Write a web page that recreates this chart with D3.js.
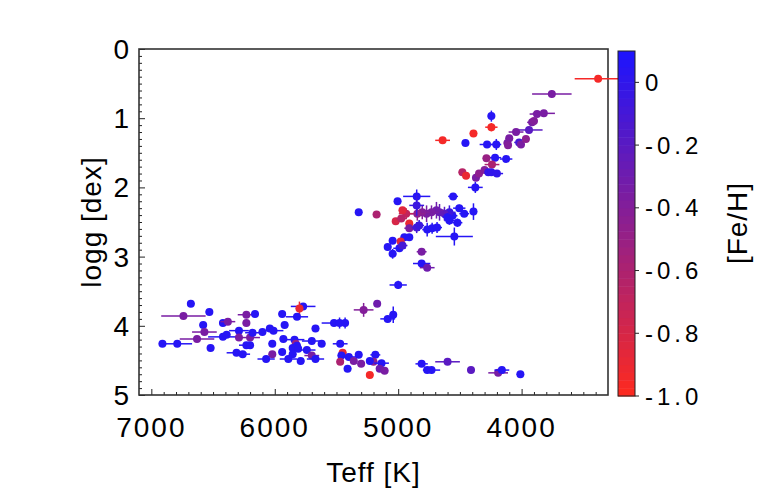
<!DOCTYPE html>
<html>
<head>
<meta charset="utf-8">
<script src="https://cdn.jsdelivr.net/npm/d3@7"></script>
<style>
    body { margin: 0; background: #fff; }
    text { font-family: "Liberation Sans", Arial, Helvetica, sans-serif; fill: #000; }
</style>
</head>
<body>
<svg id="chart" width="768" height="500"></svg>
<script>
// stellar parameters
let teff = [
    3380, 3755, 3875, 3820, 3915, 3900, 3940, 4045, 4100, 4115,
    4110, 4020, 4005, 3965, 4245, 4245, 4390, 4455, 4640, 4280,
    4205, 4215, 4285, 4125, 4240, 4480, 4450, 4370, 4345, 4300,
    4270, 4245, 4200, 4375, 4555, 4850, 5005, 5175, 5320, 4390,
    4505, 4465, 4560, 4585, 4625, 4665, 4690, 4730, 4770, 4805,
    4845, 4935, 4965, 5020, 4975, 4910, 4850, 4910, 4850, 4830,
    4765, 4725, 4685, 4585, 4520, 4600, 4545, 4950, 4910, 5045,
    5085, 4980, 4990, 4965, 5045, 4810, 4810, 4765, 5000, 5170,
    5085, 5040, 5185, 5200, 5135, 5150, 5110, 5230, 4810, 4765,
    4730, 4600, 4410, 4190, 4160, 4010, 5770, 5800, 5940, 5820,
    5920, 6100, 6040, 6010, 5670, 5520, 5475, 5430, 5280, 6020,
    5930, 5840, 5830, 5820, 5855, 5810, 5700, 5620, 5470, 6020,
    5940, 5855, 5740, 6070, 5890, 5790, 5700, 5670, 5450, 5460,
    5470, 5400, 5360, 5320, 5300, 5230, 5410, 6680, 6740, 6530,
    6580, 6570, 6420, 6380, 6910, 6790, 6630, 6520, 6420, 6390,
    6290, 6290, 6230, 6160, 6230, 6200, 6180, 6230, 6200, 6310,
    6260
];
let logg = [
    0.43, 0.65, 0.94, 0.93, 1.06, 1.04, 1.17, 1.20, 1.29, 1.36,
    1.39, 1.35, 1.38, 1.30, 0.97, 1.13, 1.22, 1.36, 1.32, 1.38,
    1.38, 1.57, 1.58, 1.59, 1.67, 1.78, 1.83, 1.86, 1.80, 1.75,
    1.78, 1.78, 1.80, 2.00, 2.13, 2.13, 2.20, 2.39, 2.36, 2.35,
    2.30, 2.38, 2.41, 2.36, 2.38, 2.36, 2.33, 2.36, 2.38, 2.36,
    2.38, 2.38, 2.33, 2.49, 2.45, 2.52, 2.26, 2.59, 2.58, 2.55,
    2.61, 2.59, 2.58, 2.48, 2.51, 2.43, 2.71, 2.72, 2.72, 2.77,
    2.86, 2.78, 2.88, 2.84, 2.96, 2.93, 3.10, 3.16, 3.41, 3.68,
    3.90, 3.84, 4.42, 4.52, 4.54, 4.62, 4.65, 4.71, 4.55, 4.64,
    4.64, 4.52, 4.64, 4.68, 4.64, 4.70, 3.72, 3.75, 3.83, 3.87,
    3.99, 4.09, 4.04, 4.07, 4.04, 3.96, 3.96, 3.96, 3.77, 4.26,
    4.19, 4.20, 4.26, 4.29, 4.32, 4.33, 4.22, 4.26, 4.26, 4.41,
    4.38, 4.41, 4.35, 4.48, 4.48, 4.51, 4.43, 4.48, 4.39, 4.43,
    4.52, 4.45, 4.51, 4.42, 4.55, 4.51, 4.62, 3.68, 3.86, 3.80,
    3.99, 4.09, 3.96, 3.94, 4.26, 4.26, 4.19, 4.32, 4.16, 4.13,
    4.07, 4.17, 3.84, 3.83, 3.96, 4.17, 4.10, 4.28, 4.28, 4.39,
    4.41
];
let feh = [
    -0.95, -0.35, -0.35, -0.35, -0.35, -0.40, -0.20, -0.35, -0.35, -0.35,
    -0.40, -0.10, -0.35, -0.45, 0.05, -0.95, -0.95, 0.05, -0.95, 0.05,
    0.05, 0.05, -0.50, 0.05, -0.60, -0.65, -0.90, -0.35, -0.45, -0.40,
    0.00, 0.00, 0.00, 0.05, 0.05, 0.05, 0.05, -0.60, 0.05, 0.05,
    0.05, 0.05, 0.05, -0.05, -0.20, -0.25, -0.30, -0.35, -0.35, -0.40,
    -0.45, -0.70, -0.85, -0.80, -0.65, -0.90, -0.05, -0.35, -0.10, -0.05,
    0.05, 0.05, 0.05, 0.05, 0.05, 0.05, 0.05, 0.05, 0.05, 0.05,
    0.05, -0.85, 0.05, -0.10, 0.05, -0.35, 0.05, -0.30, 0.05, -0.30,
    0.05, 0.05, 0.05, -0.45, 0.05, -0.30, -0.35, -0.95, 0.05, 0.05,
    0.05, -0.20, -0.20, -0.35, 0.05, 0.05, 0.05, -0.90, 0.05, 0.05,
    0.05, 0.05, 0.05, 0.05, 0.05, 0.05, 0.05, 0.05, -0.40, 0.05,
    0.05, 0.05, -0.50, 0.05, 0.05, 0.05, 0.05, 0.05, 0.05, -0.35,
    0.05, 0.05, 0.05, 0.05, 0.05, 0.05, -0.35, 0.05, -0.90, 0.05,
    -0.60, 0.05, -0.35, 0.05, -0.35, 0.05, 0.05, 0.05, -0.35, 0.05,
    0.05, -0.35, 0.05, -0.35, 0.05, 0.05, -0.35, 0.05, 0.05, 0.05,
    0.05, -0.35, -0.35, 0.05, -0.35, -0.35, 0.05, 0.05, 0.05, 0.05,
    0.05
];
let teffErr = [
    190, 160, 60, 90, 40, 30, 110, 60, 30, 30,
    30, 40, 30, 30, 30, 50, 30, 30, 60, 60,
    40, 50, 30, 50, 60, 30, 30, 30, 30, 30,
    30, 30, 50, 60, 40, 110, 30, 30, 30, 30,
    50, 40, 40, 50, 50, 50, 60, 60, 60, 60,
    60, 60, 30, 30, 40, 30, 60, 40, 40, 40,
    40, 40, 40, 40, 40, 40, 150, 30, 30, 30,
    30, 30, 50, 40, 30, 40, 70, 60, 70, 30,
    60, 30, 40, 30, 60, 30, 30, 30, 50, 30,
    70, 100, 30, 80, 60, 30, 100, 30, 30, 90,
    30, 30, 30, 80, 30, 100, 30, 30, 80, 30,
    30, 80, 30, 30, 30, 30, 80, 30, 60, 30,
    30, 30, 70, 70, 70, 30, 60, 70, 30, 30,
    30, 60, 30, 30, 30, 30, 30, 30, 180, 30,
    30, 100, 30, 60, 30, 120, 140, 30, 120, 30,
    80, 30, 70, 30, 30, 80, 60, 60, 30, 80,
    60
];
let loggErr = [
    0.03, 0.05, 0.03, 0.03, 0.03, 0.03, 0.03, 0.04, 0.03, 0.03,
    0.03, 0.03, 0.03, 0.03, 0.08, 0.06, 0.03, 0.03, 0.03, 0.05,
    0.08, 0.03, 0.03, 0.03, 0.03, 0.03, 0.03, 0.03, 0.03, 0.03,
    0.03, 0.03, 0.03, 0.08, 0.05, 0.10, 0.03, 0.03, 0.03, 0.12,
    0.05, 0.04, 0.05, 0.10, 0.10, 0.12, 0.12, 0.10, 0.12, 0.10,
    0.10, 0.08, 0.03, 0.03, 0.05, 0.05, 0.15, 0.05, 0.08, 0.08,
    0.10, 0.08, 0.08, 0.06, 0.06, 0.06, 0.13, 0.04, 0.04, 0.03,
    0.03, 0.03, 0.03, 0.03, 0.07, 0.03, 0.04, 0.03, 0.06, 0.03,
    0.04, 0.12, 0.03, 0.03, 0.03, 0.03, 0.03, 0.03, 0.03, 0.03,
    0.03, 0.03, 0.03, 0.03, 0.03, 0.03, 0.03, 0.10, 0.03, 0.03,
    0.03, 0.03, 0.03, 0.03, 0.03, 0.03, 0.08, 0.08, 0.10, 0.03,
    0.03, 0.03, 0.03, 0.03, 0.03, 0.03, 0.03, 0.03, 0.03, 0.03,
    0.03, 0.03, 0.03, 0.03, 0.03, 0.03, 0.03, 0.03, 0.03, 0.03,
    0.03, 0.03, 0.03, 0.03, 0.03, 0.03, 0.03, 0.03, 0.03, 0.03,
    0.03, 0.03, 0.03, 0.03, 0.03, 0.03, 0.03, 0.03, 0.03, 0.03,
    0.03, 0.03, 0.03, 0.03, 0.03, 0.03, 0.03, 0.03, 0.03, 0.03,
    0.03
];

// axis ticks
let teffTicks = [7000, 6000, 5000, 4000];
let loggTicks = [0, 1, 2, 3, 4, 5];
let fehTicks = [0, -0.2, -0.4, -0.6, -0.8, -1.0];
let fehTickLabels = ["0", "-0.2", "-0.4", "-0.6", "-0.8", "-1.0"];

let svg = d3.select("#chart");

let plotLeft = 139, plotRight = 608, plotTop = 49, plotBottom = 395;
let barLeft = 618, barWidth = 17, barTop = 51, barBottom = 396;

let xScale = d3.scaleLinear().domain([7100, 3300]).range([plotLeft, plotRight]);
let yScale = d3.scaleLinear().domain([0, 5]).range([plotTop, plotBottom]);
let cScale = d3.scaleLinear().domain([-1.0, 0.1]).range([barBottom, barTop]);
let colorScale = d3.scaleLinear()
    .domain([-1.0, 0.1])
    .range(["#ff2a1e", "#1c14ff"])
    .clamp(true);

let stars = teff.map((t, i) => ({
    teff: t, logg: logg[i], feh: feh[i], eT: teffErr[i], eG: loggErr[i]
}));

// minor + major ticks, pointing inward
let xAxis = d3.axisTop(xScale)
    .tickValues(d3.range(7000, 3300, -100))
    .tickSize(3)
    .tickFormat("");
svg.append("g")
    .attr("transform", "translate(0," + plotBottom + ")")
    .call(xAxis)
    .call(g => g.select(".domain").remove())
    .selectAll("line")
    .attr("stroke", "#222")
    .attr("y2", d => (d % 1000 === 0 ? -6 : -3));

let yAxis = d3.axisRight(yScale)
    .tickValues(d3.range(0, 5.001, 0.1))
    .tickSize(3)
    .tickFormat("");
svg.append("g")
    .attr("transform", "translate(" + plotLeft + ",0)")
    .call(yAxis)
    .call(g => g.select(".domain").remove())
    .selectAll("line")
    .attr("stroke", "#222")
    .attr("x2", d => (Math.abs(d - Math.round(d)) < 1e-6 ? 6 : 3));

// frame
svg.append("rect")
    .attr("x", plotLeft)
    .attr("y", plotTop)
    .attr("width", plotRight - plotLeft)
    .attr("height", plotBottom - plotTop)
    .attr("fill", "none")
    .attr("stroke", "#333")
    .attr("stroke-width", 1.6);

// tick labels
svg.append("g").selectAll("text")
    .data(teffTicks)
    .enter().append("text")
    .attr("x", d => xScale(d))
    .attr("y", 437)
    .attr("text-anchor", "middle")
    .style("font-size", "28px")
    .style("letter-spacing", "2px")
    .text(d => d);

svg.append("g").selectAll("text")
    .data(loggTicks)
    .enter().append("text")
    .attr("x", 129)
    .attr("y", d => yScale(d))
    .attr("dy", "0.36em")
    .attr("text-anchor", "end")
    .style("font-size", "28px")
    .text(d => d);

// axis titles
svg.append("text")
    .attr("x", (plotLeft + plotRight) / 2)
    .attr("y", 482)
    .attr("text-anchor", "middle")
    .style("font-size", "28px")
    .style("letter-spacing", "1px")
    .text("Teff [K]");

svg.append("text")
    .attr("transform", "translate(101," + ((plotTop + plotBottom) / 2) + ") rotate(-90)")
    .attr("text-anchor", "middle")
    .style("font-size", "28px")
    .style("letter-spacing", "1px")
    .text("logg [dex]");

// error bars then dots
let points = svg.append("g");
let marks = points.selectAll("g")
    .data(stars)
    .enter().append("g");

marks.append("line")
    .attr("x1", d => xScale(d.teff + d.eT))
    .attr("x2", d => xScale(d.teff - d.eT))
    .attr("y1", d => yScale(d.logg))
    .attr("y2", d => yScale(d.logg))
    .attr("stroke", d => colorScale(d.feh))
    .attr("stroke-width", 1.5);

marks.append("line")
    .attr("x1", d => xScale(d.teff))
    .attr("x2", d => xScale(d.teff))
    .attr("y1", d => yScale(d.logg - d.eG))
    .attr("y2", d => yScale(d.logg + d.eG))
    .attr("stroke", d => colorScale(d.feh))
    .attr("stroke-width", 1.5);

marks.append("circle")
    .attr("cx", d => xScale(d.teff))
    .attr("cy", d => yScale(d.logg))
    .attr("r", 4)
    .attr("fill", d => colorScale(d.feh));

// colour bar, drawn in bands
let bandStep = 0.025;
svg.append("g").selectAll("rect")
    .data(d3.range(-1.0, 0.1 - 1e-9, bandStep))
    .enter().append("rect")
    .attr("x", barLeft)
    .attr("y", d => cScale(d + bandStep))
    .attr("width", barWidth)
    .attr("height", d => cScale(d) - cScale(d + bandStep) + 0.5)
    .attr("fill", d => colorScale(d + bandStep / 2));

svg.append("rect")
    .attr("x", barLeft)
    .attr("y", barTop)
    .attr("width", barWidth)
    .attr("height", barBottom - barTop)
    .attr("fill", "none")
    .attr("stroke", "#222")
    .attr("stroke-width", 1);

let barTicks = svg.append("g");
barTicks.selectAll("line")
    .data(fehTicks)
    .enter().append("line")
    .attr("x1", barLeft + barWidth)
    .attr("x2", barLeft + barWidth + 4)
    .attr("y1", d => cScale(d))
    .attr("y2", d => cScale(d))
    .attr("stroke", "#222");

barTicks.selectAll("text")
    .data(fehTicks)
    .enter().append("text")
    .attr("x", 645)
    .attr("y", d => cScale(d))
    .attr("dy", "0.36em")
    .style("font-size", "24px")
    .style("letter-spacing", "4px")
    .text((d, i) => fehTickLabels[i]);

svg.append("text")
    .attr("transform", "translate(747,223) rotate(-90)")
    .attr("text-anchor", "middle")
    .style("font-size", "28px")
    .style("letter-spacing", "1px")
    .text("[Fe/H]");
</script>
</body>
</html>
